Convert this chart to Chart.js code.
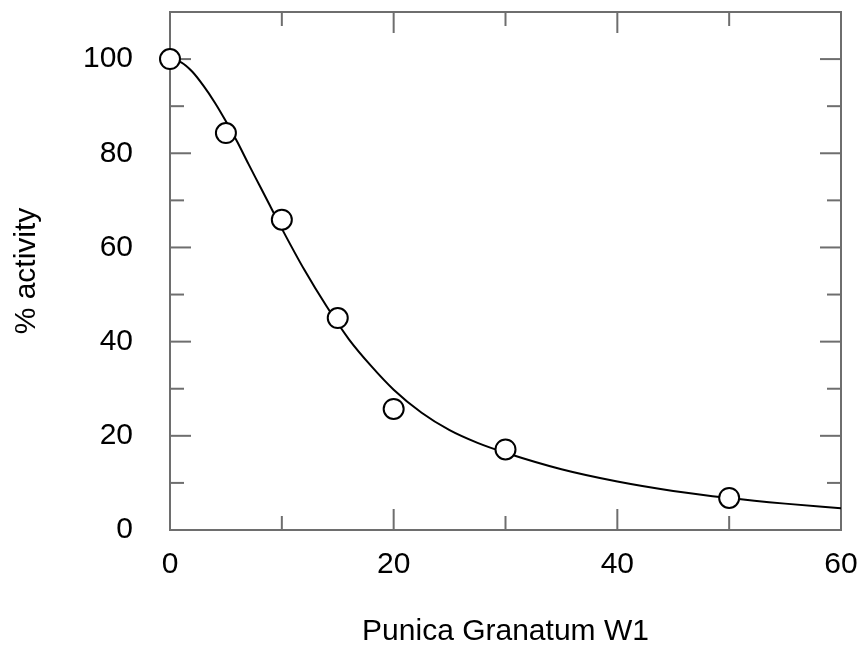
<!DOCTYPE html>
<html>
<head>
<meta charset="utf-8">
<script src="https://cdn.jsdelivr.net/npm/chart.js@4.4.1/dist/chart.umd.min.js"></script>
<style>
  body { margin: 0; background: #fff; }
  #wrap { width: 865px; height: 652px; }
</style>
</head>
<body>
<div id="wrap"><canvas id="chart"></canvas></div>
<script>
// measured points
const doseX = [0, 5, 10, 15, 20, 30, 50];
const activityY = [100, 84.3, 65.9, 45, 25.7, 17.1, 6.8];

// fitted curve, values
const fitX = [0, 1, 2, 3, 4, 5, 6, 7, 8, 9, 10, 12, 14, 16, 18, 20, 22.5, 25, 27.5, 30, 35, 40, 45, 50, 55, 60];
const fitY = [100, 99.3, 97.3, 94.3, 90.8, 86.8, 82.5, 77.8, 73.2, 68.6, 64, 55.3, 47.5, 40.5, 34.8, 29.8, 24.9, 21.2, 18.5, 16.4, 12.9, 10.3, 8.3, 6.8, 5.6, 4.6];

// axis ticks
const xTicks = [0, 20, 40, 60];
const xMinorTicks = [10, 30, 50];
const yTicks = [0, 20, 40, 60, 80, 100];
const yMinorTicks = [10, 30, 50, 70, 90];

const axisGray = "#6e6e6e";
const fontFamily = "'Liberation Sans', Arial, sans-serif";

// box around the plot with inward ticks on all four sides
const frameTicks = {
  id: "frameTicks",
  beforeDatasetsDraw(chart) {
    const { ctx, chartArea: a, scales: { x, y } } = chart;
    ctx.save();
    ctx.strokeStyle = axisGray;
    ctx.lineWidth = 2;
    ctx.strokeRect(a.left, a.top, a.right - a.left, a.bottom - a.top);
    const line = (x1, y1, x2, y2) => {
      ctx.beginPath();
      ctx.moveTo(x1, y1);
      ctx.lineTo(x2, y2);
      ctx.stroke();
    };
    const xMarks = (vals, len) => vals.forEach(v => {
      const px = x.getPixelForValue(v);
      line(px, a.bottom, px, a.bottom - len);
      line(px, a.top, px, a.top + len);
    });
    const yMarks = (vals, len) => vals.forEach(v => {
      const py = y.getPixelForValue(v);
      line(a.left, py, a.left + len, py);
      line(a.right, py, a.right - len, py);
    });
    xMarks(xTicks, 21);
    xMarks(xMinorTicks, 14);
    yMarks(yTicks, 21);
    yMarks(yMinorTicks, 14);
    ctx.restore();
  }
};

new Chart(document.getElementById("chart"), {
  type: "scatter",
  data: {
    datasets: [
      {
        label: "measured",
        data: doseX.map((v, i) => ({ x: v, y: activityY[i] })),
        pointRadius: 10,
        pointBorderWidth: 2,
        pointBackgroundColor: "#ffffff",
        pointBorderColor: "#000000",
        showLine: false,
        clip: false
      },
      {
        label: "fit",
        data: fitX.map((v, i) => ({ x: v, y: fitY[i] })),
        showLine: true,
        pointRadius: 0,
        borderColor: "#000000",
        borderWidth: 2,
        cubicInterpolationMode: "monotone"
      }
    ]
  },
  options: {
    responsive: true,
    maintainAspectRatio: false,
    animation: false,
    layout: { padding: { top: 11, right: 24, left: 0, bottom: 0 } },
    plugins: {
      legend: { display: false },
      tooltip: { enabled: false }
    },
    scales: {
      x: {
        type: "linear",
        min: 0,
        max: 60,
        grid: { display: false, drawTicks: false },
        border: { display: false },
        afterBuildTicks: s => { s.ticks = xTicks.map(v => ({ value: v })); },
        afterFit: s => { s.height = 122; s.paddingLeft = 0; s.paddingRight = 0; },
        ticks: { color: "#000", padding: 17, font: { family: fontFamily, size: 30 } },
        title: {
          display: true,
          text: "Punica Granatum W1",
          color: "#000",
          padding: { top: 0, bottom: 2 },
          font: { family: fontFamily, size: 30 }
        }
      },
      y: {
        min: 0,
        max: 110,
        grid: { display: false, drawTicks: false },
        border: { display: false },
        afterBuildTicks: s => { s.ticks = yTicks.map(v => ({ value: v })); },
        afterFit: s => { s.width = 170; s.paddingTop = 0; s.paddingBottom = 0; },
        ticks: { color: "#000", padding: 37, font: { family: fontFamily, size: 30 } },
        title: {
          display: true,
          text: "% activity",
          color: "#000",
          padding: { top: 9, bottom: 0 },
          font: { family: fontFamily, size: 30 }
        }
      }
    }
  },
  plugins: [frameTicks]
});
</script>
</body>
</html>
